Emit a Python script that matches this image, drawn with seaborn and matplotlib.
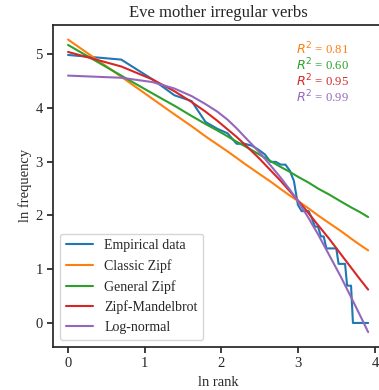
import numpy as np
import pandas as pd
import matplotlib
matplotlib.use("Agg")
import matplotlib.pyplot as plt
import seaborn as sns

# empirical rank-frequency counts
ranks = list(range(1, 51))
freqs = [146, 134, 93, 69, 62, 42, 37, 34, 28, 28,
         27, 25, 23, 20, 20, 19, 19, 17, 14, 9,
         8, 8, 8, 7, 6, 6, 5, 5, 4, 4,
         4, 4, 4, 3, 3, 3, 3, 2, 2, 2,
         1, 1, 1, 1, 1, 1, 1, 1, 1, 1]

# fitted curves, ln frequency at these ranks
fit_ranks = [1, 2, 3, 4, 5, 6, 7, 8, 9, 10, 12, 14, 16, 18, 20, 23, 26,
             30, 35, 40, 45, 50]
classic_zipf = [5.27, 4.58, 4.17, 3.88, 3.66, 3.47, 3.32, 3.19, 3.07, 2.96,
                2.78, 2.63, 2.49, 2.37, 2.27, 2.13, 2.00, 1.86, 1.71, 1.57,
                1.45, 1.35]
general_zipf = [5.17, 4.60, 4.27, 4.04, 3.85, 3.70, 3.58, 3.47, 3.37, 3.29,
                3.14, 3.01, 2.90, 2.81, 2.72, 2.61, 2.50, 2.39, 2.26, 2.15,
                2.06, 1.97]
zipf_mandelbrot = [5.04, 4.77, 4.53, 4.31, 4.11, 3.93, 3.76, 3.60, 3.46, 3.32,
                   3.07, 2.84, 2.64, 2.45, 2.28, 2.04, 1.82, 1.57, 1.28, 1.03,
                   0.81, 0.62]
log_normal = [4.60, 4.56, 4.48, 4.36, 4.22, 4.07, 3.93, 3.78, 3.62, 3.46,
              3.19, 2.93, 2.70, 2.48, 2.27, 1.95, 1.65, 1.27, 0.86, 0.48,
              0.14, -0.17]

r2_labels = ["0.81", "0.60", "0.95", "0.99"]

sns.set_theme(style="ticks")
plt.rcParams["font.family"] = ["Liberation Serif", "DejaVu Serif"]

fig = plt.figure(figsize=(3.79, 3.90), dpi=100)
ax = fig.add_axes([0.14, 0.111, 0.871, 0.825])

colors = sns.color_palette("tab10")
x_emp = np.log(ranks)
x_fit = np.log(fit_ranks)

sns.lineplot(x=x_emp, y=np.log(freqs), ax=ax, color=colors[0], lw=1.5,
             label="Empirical data", sort=False, estimator=None)
series = [("Classic Zipf", classic_zipf), ("General Zipf", general_zipf),
          ("Zipf-Mandelbrot", zipf_mandelbrot), ("Log-normal", log_normal)]
for i, (name, vals) in enumerate(series):
    sns.lineplot(x=x_fit, y=vals, ax=ax, color=colors[i + 1], lw=1.5,
                 label=name, sort=False, estimator=None)

for i, r2 in enumerate(r2_labels):
    ax.text(0.897, 0.925 - i * 0.0497, r"$R^2$ = " + r2, color=colors[i + 1],
            transform=ax.transAxes, ha="right", va="center", fontsize=9.2)

ax.set_xticks([0, 1, 2, 3, 4])
ax.set_yticks([0, 1, 2, 3, 4, 5])
ax.tick_params(labelsize=10.5, length=4)
ax.set_xlabel("ln rank", fontsize=10.5)
ax.set_ylabel("ln frequency", fontsize=10.5)
ax.yaxis.set_label_coords(-0.064, 0.5)
ax.set_title("Eve mother irregular verbs", fontsize=12)
ax.legend(loc="lower left", fontsize=10)

fig.savefig("out.png", dpi=100)
